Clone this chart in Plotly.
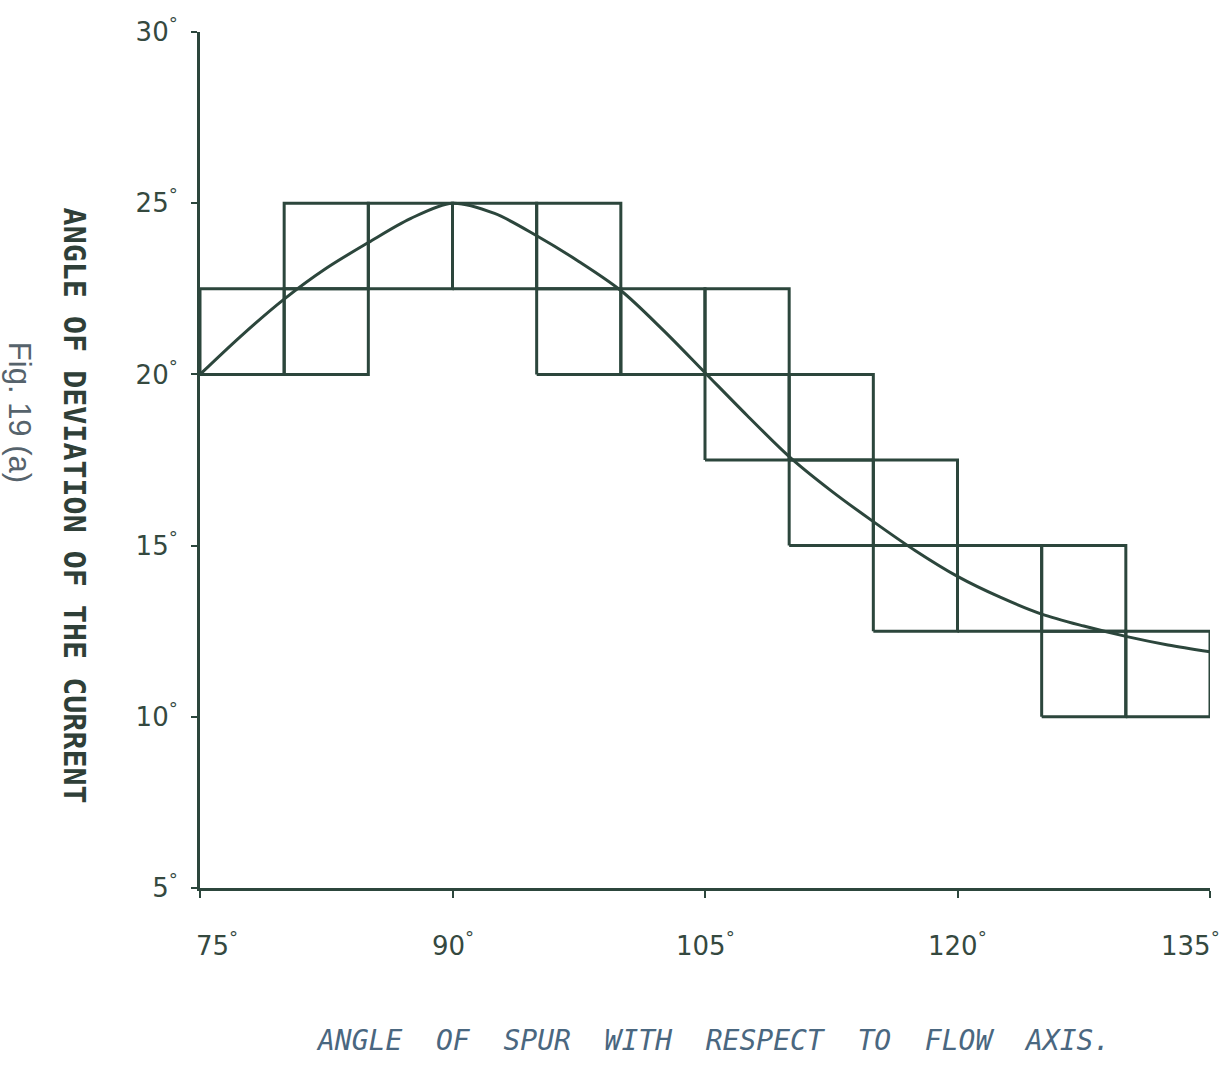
import plotly.graph_objects as go

# ---- data ----
bin_start = [75, 80, 85, 90, 95, 100, 105, 110, 115, 120, 125, 130]
bin_width = 5
band_low = [20, 20, 22.5, 22.5, 20, 20, 17.5, 15, 12.5, 12.5, 10, 10]
band_high = [22.5, 25, 25, 25, 25, 22.5, 22.5, 20, 17.5, 15, 15, 12.5]
cell_height = 2.5

curve_x = [75, 77.5, 80, 82.5, 85, 87.5, 90, 92.5, 95, 97.5, 100, 102.5, 105,
           107.5, 110, 112.5, 115, 117.5, 120, 122.5, 125, 127.5, 130, 132.5, 135]
curve_y = [20, 21.15, 22.2, 23.1, 23.85, 24.55, 25.0, 24.7, 24.05, 23.3, 22.45, 21.3, 20.05,
           18.8, 17.6, 16.6, 15.7, 14.85, 14.1, 13.5, 13.0, 12.65, 12.35, 12.1, 11.9]

x_ticks = [75, 90, 105, 120, 135]
x_ticktext = ["75<sup>°</sup>", "90<sup>°</sup>", "105<sup>°</sup>", "120<sup>°</sup>", "135<sup>°</sup>"]
y_ticks = [5, 10, 15, 20, 25, 30]
y_ticktext = ["5<sup>°</sup>", "10<sup>°</sup>", "15<sup>°</sup>", "20<sup>°</sup>", "25<sup>°</sup>", "30<sup>°</sup>"]

LINE = "#2c463c"
TXT = "#35493f"

fig = go.Figure()

# grid cells (outline rectangles)
xs, ys = [], []
for x0, lo, hi in zip(bin_start, band_low, band_high):
    y0 = lo
    while y0 < hi - 1e-9:
        y1 = y0 + cell_height
        x1 = x0 + bin_width
        xs += [x0, x1, x1, x0, x0, None]
        ys += [y0, y0, y1, y1, y0, None]
        y0 = y1
fig.add_trace(go.Scatter(x=xs, y=ys, mode="lines",
                         line=dict(color=LINE, width=3), hoverinfo="skip",
                         showlegend=False, cliponaxis=False))

fig.add_trace(go.Scatter(x=curve_x, y=curve_y, mode="lines",
                         line=dict(color=LINE, width=3, shape="spline", smoothing=0.9),
                         showlegend=False, cliponaxis=False))

# x tick labels as annotations (last one kept inside the page)
x_label_ann = []
for i, (v, t) in enumerate(zip(x_ticks, x_ticktext)):
    last = i == len(x_ticks) - 1
    first = i == 0
    x_label_ann.append(dict(
        text=t, x=v, xref="x", y=-0.066, yref="paper",
        xanchor="right" if last else ("left" if first else "center"),
        xshift=12 if last else (-6 if first else 0),
        yanchor="middle", showarrow=False,
        font=dict(family="DejaVu Sans", size=26, color=TXT)))

fig.update_layout(
    width=1229, height=1066,
    margin=dict(l=200, r=19, t=32, b=178),
    paper_bgcolor="white", plot_bgcolor="white",
    font=dict(family="DejaVu Sans", color=TXT),
    xaxis=dict(range=[75, 135], tickmode="array", tickvals=x_ticks, showticklabels=False,
               showgrid=False, zeroline=False, showline=True, linecolor=LINE, linewidth=3,
               ticks="outside", ticklen=7, tickwidth=2, tickcolor=LINE, automargin=False),
    yaxis=dict(range=[5, 30], tickmode="array", tickvals=y_ticks, ticktext=y_ticktext,
               showgrid=False, zeroline=False, showline=True, linecolor=LINE, linewidth=3,
               ticks="outside", ticklen=6, tickwidth=2, tickcolor=LINE,
               ticklabelstandoff=8, ticklabeloverflow="allow", automargin=False,
               tickfont=dict(size=26, color=TXT)),
    annotations=x_label_ann + [
        dict(text="ANGLE OF DEVIATION OF THE CURRENT", xref="paper", yref="paper",
             x=-0.124, y=0.447, xanchor="center", yanchor="middle", textangle=90,
             showarrow=False, font=dict(family="DejaVu Sans Mono", size=30, color="#2f3f38",
                                        weight="bold")),
        dict(text="Fig. 19 (a)", xref="paper", yref="paper",
             x=-0.178, y=0.556, xanchor="center", yanchor="middle", textangle=90,
             showarrow=False, font=dict(family="Liberation Sans", size=31, color="#56636c")),
        dict(text="ANGLE  OF  SPUR  WITH  RESPECT  TO  FLOW  AXIS.", xref="paper", yref="paper",
             x=0.508, y=-0.178, xanchor="center", yanchor="middle",
             showarrow=False, font=dict(family="DejaVu Sans Mono", size=28, color="#4a6780",
                                        style="italic")),
    ],
)

fig.write_html("out.html")
